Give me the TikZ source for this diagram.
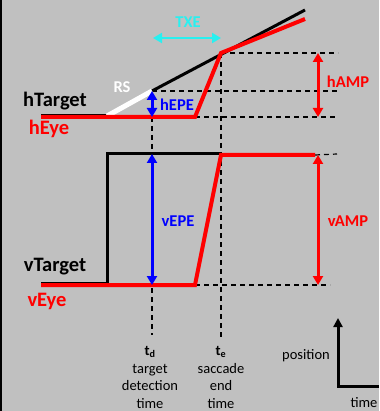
\documentclass[tikz,border=0pt]{standalone}
\usepackage{fontspec}
\setmainfont{Carlito}
\usetikzlibrary{arrows.meta}
\definecolor{bg}{RGB}{192,192,192}
\definecolor{lblue}{RGB}{0,0,255}
\definecolor{lred}{RGB}{255,0,0}
\definecolor{lcyan}{RGB}{40,240,240}
\begin{document}
\begin{tikzpicture}[x=1pt,y=-1pt,
  dashln/.style={dash pattern=on 5pt off 4pt, line width=1.2pt, black},
  tgt/.style={line width=3pt, black},
  eye/.style={line width=4pt, lred},
  dbl/.style={line width=3pt, {Triangle[width=10pt,length=9pt]}-{Triangle[width=10pt,length=9pt]}},
  bigl/.style={font=\fontsize{20.5}{24}\selectfont\bfseries, inner sep=0pt},
  midl/.style={font=\fontsize{16.5}{20}\selectfont\bfseries, inner sep=0pt},
  small/.style={font=\fontsize{14.5}{17.8}\selectfont, align=center, inner sep=0pt}
]
\useasboundingbox (0,0) rectangle (379,411);
\fill[bg] (0,0) rectangle (379,411);
\fill[black] (0,0) rectangle (2,411);

% key points
\coordinate (h0) at (41,116);
\coordinate (rs0) at (107,116);
\coordinate (rs1) at (152,91);
\coordinate (ht1) at (305,10);
\coordinate (he0) at (41,117);
\coordinate (he1) at (195,117);
\coordinate (he2) at (221,53);
\coordinate (he3) at (305,19);
\coordinate (hd1) at (338,91);
\coordinate (hd2) at (338,117);
\coordinate (hd3) at (338,53);
\coordinate (txa) at (153,38);
\coordinate (txb) at (221,38);
\coordinate (ampT) at (318,53);
\coordinate (ampB) at (318,117);
\coordinate (tdB) at (152,335);
\coordinate (teB) at (221,337);
\coordinate (tdT) at (152,117);

\coordinate (v0) at (41,283);
\coordinate (v1) at (107,283);
\coordinate (v2) at (107,154);
\coordinate (v3) at (221,154);
\coordinate (ve0) at (41,285);
\coordinate (ve1) at (195,285);
\coordinate (ve2) at (221,155);
\coordinate (ve3) at (315,155);
\coordinate (vd1) at (337,154);
\coordinate (vd2) at (330,285);
\coordinate (vepT) at (152,154);
\coordinate (vepB) at (152,285);
\coordinate (vampT) at (318,155);
\coordinate (vampB) at (318,285);

\coordinate (ax0) at (338,386);
\coordinate (axU) at (338,318);
\coordinate (axR) at (379,386);

% dashed guides
\draw[dashln] (rs1) -- (hd1);
\draw[dashln] (he1) -- (hd2);
\draw[dashln] (he2) -- (hd3);
\draw[dashln] (tdT) -- (tdB);
\draw[dashln] (he2) -- (teB);
\draw[dashln] (ve3) -- (vd1);
\draw[dashln] (ve1) -- (vd2);

% horizontal panel
\draw[tgt] (h0) -- (rs0);
\draw[tgt] (rs1) -- (ht1);
\draw[line width=5pt, white] (rs0) -- (rs1);
\draw[eye, line join=miter] (he0) -- (he1) -- (he2) -- (he3);
\draw[dbl, lcyan, line width=2.5pt] (txa) -- (txb);
\draw[dbl, lblue] (rs1) -- (he0 -| rs1);
\draw[dbl, lred] (ampT) -- (ampB);

% vertical panel
\draw[tgt] (v0) -- (v1) -- (v2) -- (v3);
\draw[eye, line join=miter] (ve0) -- (ve1) -- (ve2) -- (ve3);
\draw[dbl, lblue] (vepT) -- (vepB);
\draw[dbl, lred] (vampT) -- (vampB);

% axes
\draw[line width=3pt, -{Triangle[width=9pt,length=9pt]}] (axR) -- (ax0) -- (axU);

% labels
\node[bigl] (lht) at (55,101) {hTarget};
\node[bigl, lred] (lhe) at (49,129) {hEye};
\node[bigl] (lvt) at (55,267) {vTarget};
\node[bigl, lred] (lve) at (47,301) {vEye};
\node[midl, white] (lrs) at (122,87) {RS};
\node[midl, lcyan] (ltxe) at (188,22) {TXE};
\node[midl, lblue] (lhepe) at (177,105) {hEPE};
\node[midl, lred] (lhamp) at (348,82) {hAMP};
\node[midl, lblue] (lvepe) at (178,221) {vEPE};
\node[midl, lred] (lvamp) at (348,221) {vAMP};

\node[small, anchor=north] (ltd) at (150,346) {\textbf{t\textsubscript{d}}\\target\\detection\\time};
\node[small, anchor=north] (lte) at (221,346) {\textbf{t\textsubscript{e}}\\saccade\\end\\time};
\node[small] (lpos) at (306,356) {position};
\node[small] (ltime) at (364,403) {time};
\end{tikzpicture}
\end{document}
